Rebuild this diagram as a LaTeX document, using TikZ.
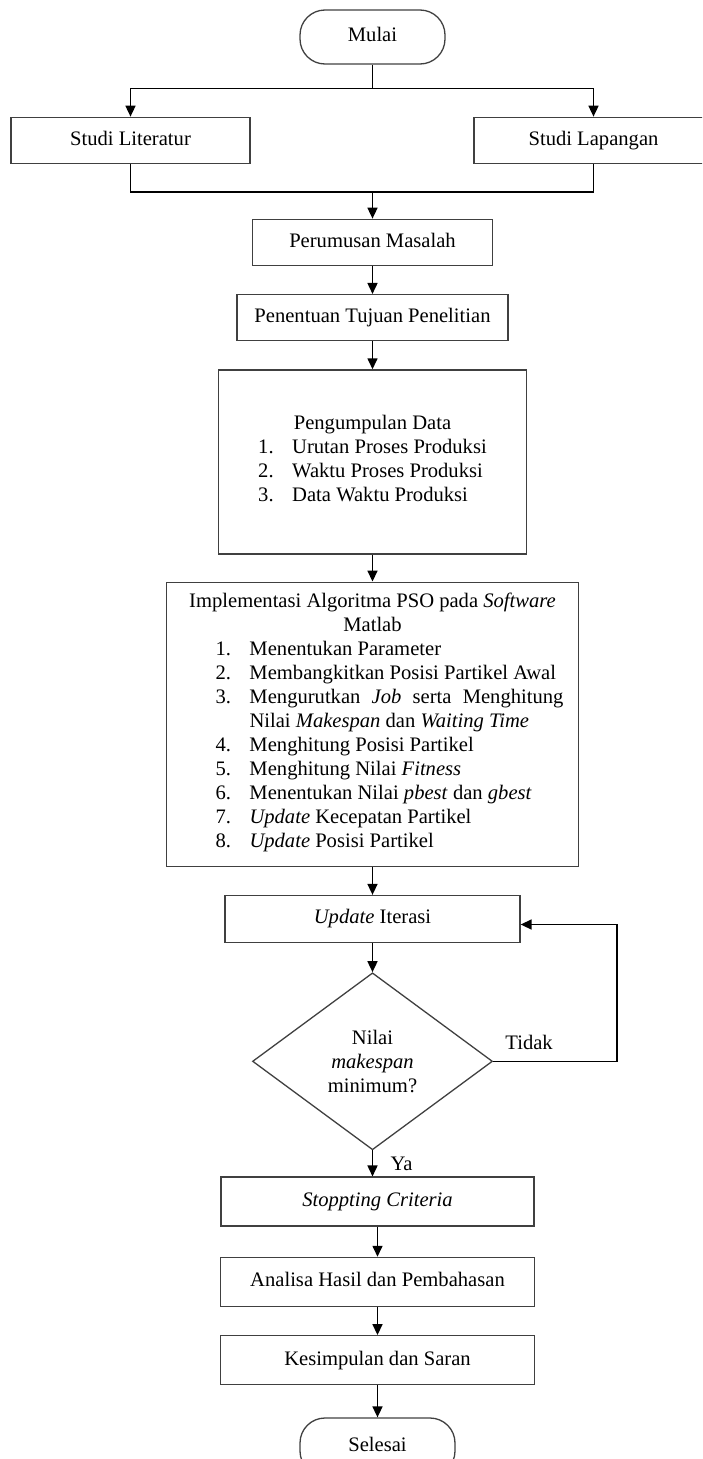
\documentclass[tikz,border=0pt]{standalone}
\usepackage{fontspec}
\setmainfont{Liberation Serif}
\usetikzlibrary{positioning, shapes.geometric, graphs, arrows.meta}

\tikzset{
    process/.style={draw=black!75, line width=1.3pt, minimum height=46pt, align=center},
    oneline/.style={text height=16.8pt, text depth=7.2pt},
    terminal/.style={draw=black!75, line width=1.3pt, rounded corners=25pt, minimum width=150pt, oneline},
    decision/.style={draw=black!75, line width=1.3pt, diamond, inner sep=0pt, align=center}
}

\begin{document}
\begin{tikzpicture}[x=1pt, y=-1pt, >={Triangle[length=11pt, width=10pt]}, line width=1.6pt, font=\fontsize{20.6}{24}\selectfont]
    \path[use as bounding box] (0,0) rectangle (702,1459);
    \clip (0,0) rectangle (702,1459);

    \node[terminal, minimum width=145pt, minimum height=54pt] (mulai) at (372.5,37) {Mulai};

    \node[process, oneline, minimum width=239pt, below=52pt of mulai, xshift=-242pt] (literatur) {Studi Literatur};
    \node[process, oneline, minimum width=239pt, below=52pt of mulai, xshift=221pt] (lapangan) {Studi Lapangan};

    \node[process, oneline, minimum width=240pt, below=154pt of mulai] (rumusan) {Perumusan Masalah};
    \node[process, oneline, minimum width=271pt, below=28pt of rumusan] (tujuan) {Penentuan Tujuan Penelitian};
    \node[process, minimum width=308pt, minimum height=184pt, below=28pt of tujuan] (data) {Pengumpulan Data\\
        \begin{tabular}[t]{@{}p{34pt}@{}l@{}}
            1. & Urutan Proses Produksi\\
            2. & Waktu Proses Produksi\\
            3. & Data Waktu Produksi
        \end{tabular}};
    \node[process, minimum width=412pt, minimum height=284pt, below=27pt of data] (pso) {Implementasi Algoritma PSO pada \textit{Software}\\
        Matlab\\
        \hspace*{34pt}\begin{tabular}[t]{@{}p{34pt}@{}p{314pt}@{}}
            1. & Menentukan Parameter\\
            2. & Membangkitkan Posisi Partikel Awal\\
            3. & Mengurutkan \textit{Job} serta Menghitung\linebreak Nilai \textit{Makespan} dan \textit{Waiting Time}\\
            4. & Menghitung Posisi Partikel\\
            5. & Menghitung Nilai \textit{Fitness}\\
            6. & Menentukan Nilai \textit{pbest} dan \textit{gbest}\\
            7. & \textit{Update} Kecepatan Partikel\\
            8. & \textit{Update} Posisi Partikel
        \end{tabular}};
    \node[process, oneline, minimum width=295pt, minimum height=47pt, below=28pt of pso] (iterasi) {\textit{Update} Iterasi};
    \node[decision, minimum width=240pt, minimum height=177pt, below=29pt of iterasi] (cek) {Nilai\\ \textit{makespan}\\ minimum?};

    \node[process, oneline, minimum width=313pt, minimum height=49pt, below=26pt of cek, xshift=5pt] (stopping) {\textit{Stoppting Criteria}};
    \node[process, oneline, minimum width=314pt, minimum height=49pt, below=30pt of stopping] (analisa) {Analisa Hasil dan Pembahasan};
    \node[process, oneline, minimum width=314pt, minimum height=49pt, below=28pt of analisa] (kesimpulan) {Kesimpulan dan Saran};
    \node[terminal, minimum width=155pt, minimum height=58pt, below=32pt of kesimpulan] (selesai) {Selesai};

    \coordinate (cabang) at ([yshift=-24pt]mulai.south);
    \coordinate (gabung) at ([yshift=-28pt]mulai |- literatur.south);
    \coordinate (balik) at ([xshift=124pt]cek.east);

    \draw (mulai) -- (cabang);
    \draw[->] (cabang) -| (literatur);
    \draw[->] (cabang) -| (lapangan);
    \draw (literatur) |- (gabung) -| (lapangan);
    \draw[->] (gabung) -- (rumusan);

    \graph{
    (rumusan) -> (tujuan) -> (data) -> (pso) -> (iterasi) -> (cek);
    (stopping) -> (analisa) -> (kesimpulan) -> (selesai);
    };

    \draw[->] (cek.east) -- node[pos=0.29, above=7pt] (tidak) {Tidak} (balik) |- ([yshift=-5.5pt]iterasi.east);
    \draw[->] (cek.south) -- node[right=14pt] (ya) {Ya} (cek.south |- stopping.north);
\end{tikzpicture}
\end{document}
